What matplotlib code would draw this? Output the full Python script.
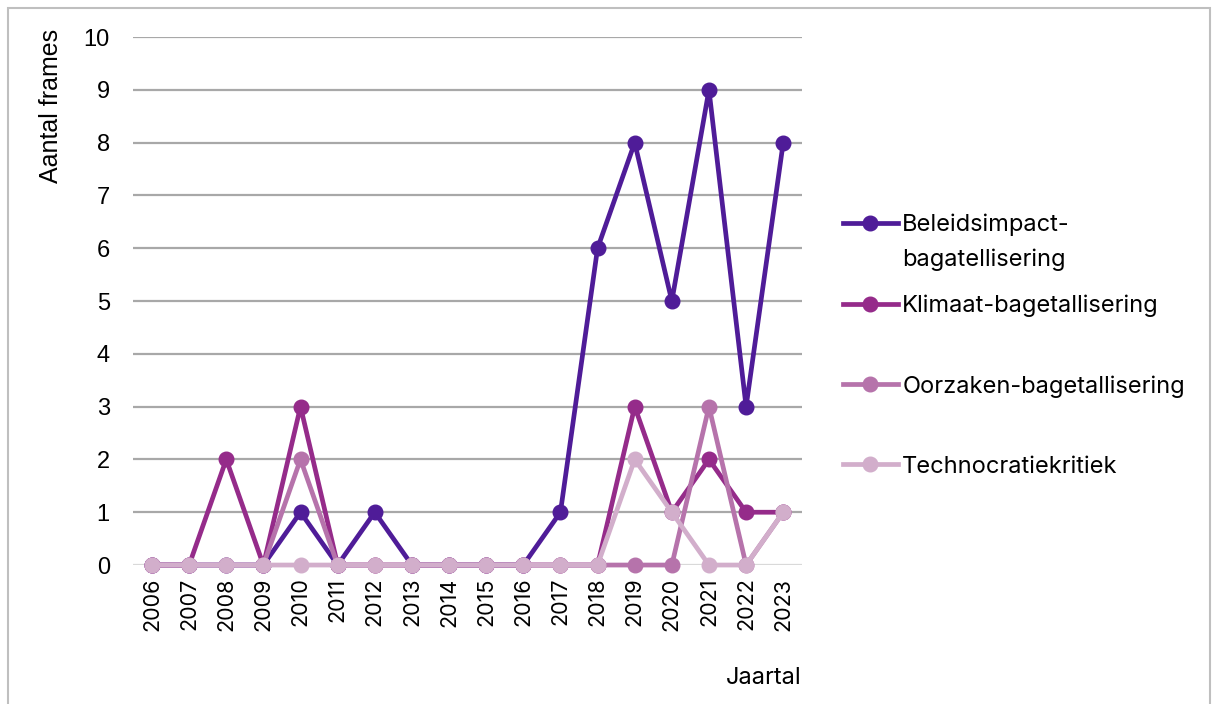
import matplotlib.pyplot as plt
from matplotlib.patches import Rectangle

years = [str(y) for y in range(2006, 2024)]

beleidsimpact = [0, 0, 0, 0, 1, 0, 1, 0, 0, 0, 0, 1, 6, 8, 5, 9, 3, 8]
klimaat = [0, 0, 2, 0, 3, 0, 0, 0, 0, 0, 0, 0, 0, 3, 1, 2, 1, 1]
oorzaken = [0, 0, 0, 0, 2, 0, 0, 0, 0, 0, 0, 0, 0, 0, 0, 3, 0, 1]
technocratie = [0, 0, 0, 0, 0, 0, 0, 0, 0, 0, 0, 0, 0, 2, 1, 0, 0, 1]

series = [
    ("Beleidsimpact-", beleidsimpact, "#4F1C98"),
    ("Klimaat-bagetallisering", klimaat, "#952B8A"),
    ("Oorzaken-bagetallisering", oorzaken, "#B673AB"),
    ("Technocratiekritiek", technocratie, "#D2AECB"),
]

fig = plt.figure(figsize=(12.13, 7.04), dpi=100)
ax = fig.add_axes([0.110, 0.1974, 0.551, 0.75])

# outer chart border
fig.patches.append(Rectangle((8 / 1213, -0.01), 1202 / 1213, 1 - 8 / 704 + 0.01,
                             transform=fig.transFigure, fill=False,
                             edgecolor="#BFBFBF", lw=1.5))

x = list(range(len(years)))
lines = []
for name, vals, col in series:
    ln, = ax.plot(x, vals, color=col, lw=3.4, marker="o", markersize=10.5,
                  solid_joinstyle="round", label=name, clip_on=False)
    lines.append(ln)

ax.set_xlim(-0.5, len(years) - 0.5)
ax.set_ylim(0, 10)
ax.set_yticks(range(0, 11))
ax.set_xticks(x)
ax.set_xticklabels(years, rotation=90, fontsize=15.5, family="Inter")
ax.tick_params(axis="x", length=0, pad=9)
ax.tick_params(axis="y", length=0, pad=17, labelsize=17)
for t in ax.get_yticklabels():
    t.set_family("Liberation Sans")

for v in range(1, 11):
    ax.axhline(v, color="#A8A8A8", lw=1.6, zorder=0)
ax.axhline(0, color="#D9D9D9", lw=1.6, zorder=0)
for s in ax.spines.values():
    s.set_visible(False)

ax.set_ylabel("Aantal frames", fontsize=18, family="Liberation Sans", loc="top")
ax.yaxis.set_label_coords(-0.106, 1.015)
ax.set_xlabel("Jaartal", fontsize=17, family="Inter", loc="right", va="center")
ax.xaxis.set_label_coords(1.0, -0.214)

leg = ax.legend(handles=lines, loc="upper left", bbox_to_anchor=(1.061, 0.665),
                frameon=False, prop={"family": "Inter", "size": 17},
                handlelength=2.33, handletextpad=0.2, labelspacing=2.46,
                borderaxespad=0, borderpad=0)
# second line of the first legend label, hanging below it
ax.annotate("bagatellisering", xy=(0, 0), xycoords=leg.get_texts()[0],
            xytext=(0, -8.5), textcoords="offset points", va="top", ha="left",
            fontsize=17, family="Inter")

fig.canvas.draw()
fig.savefig("out.png", dpi=100)
